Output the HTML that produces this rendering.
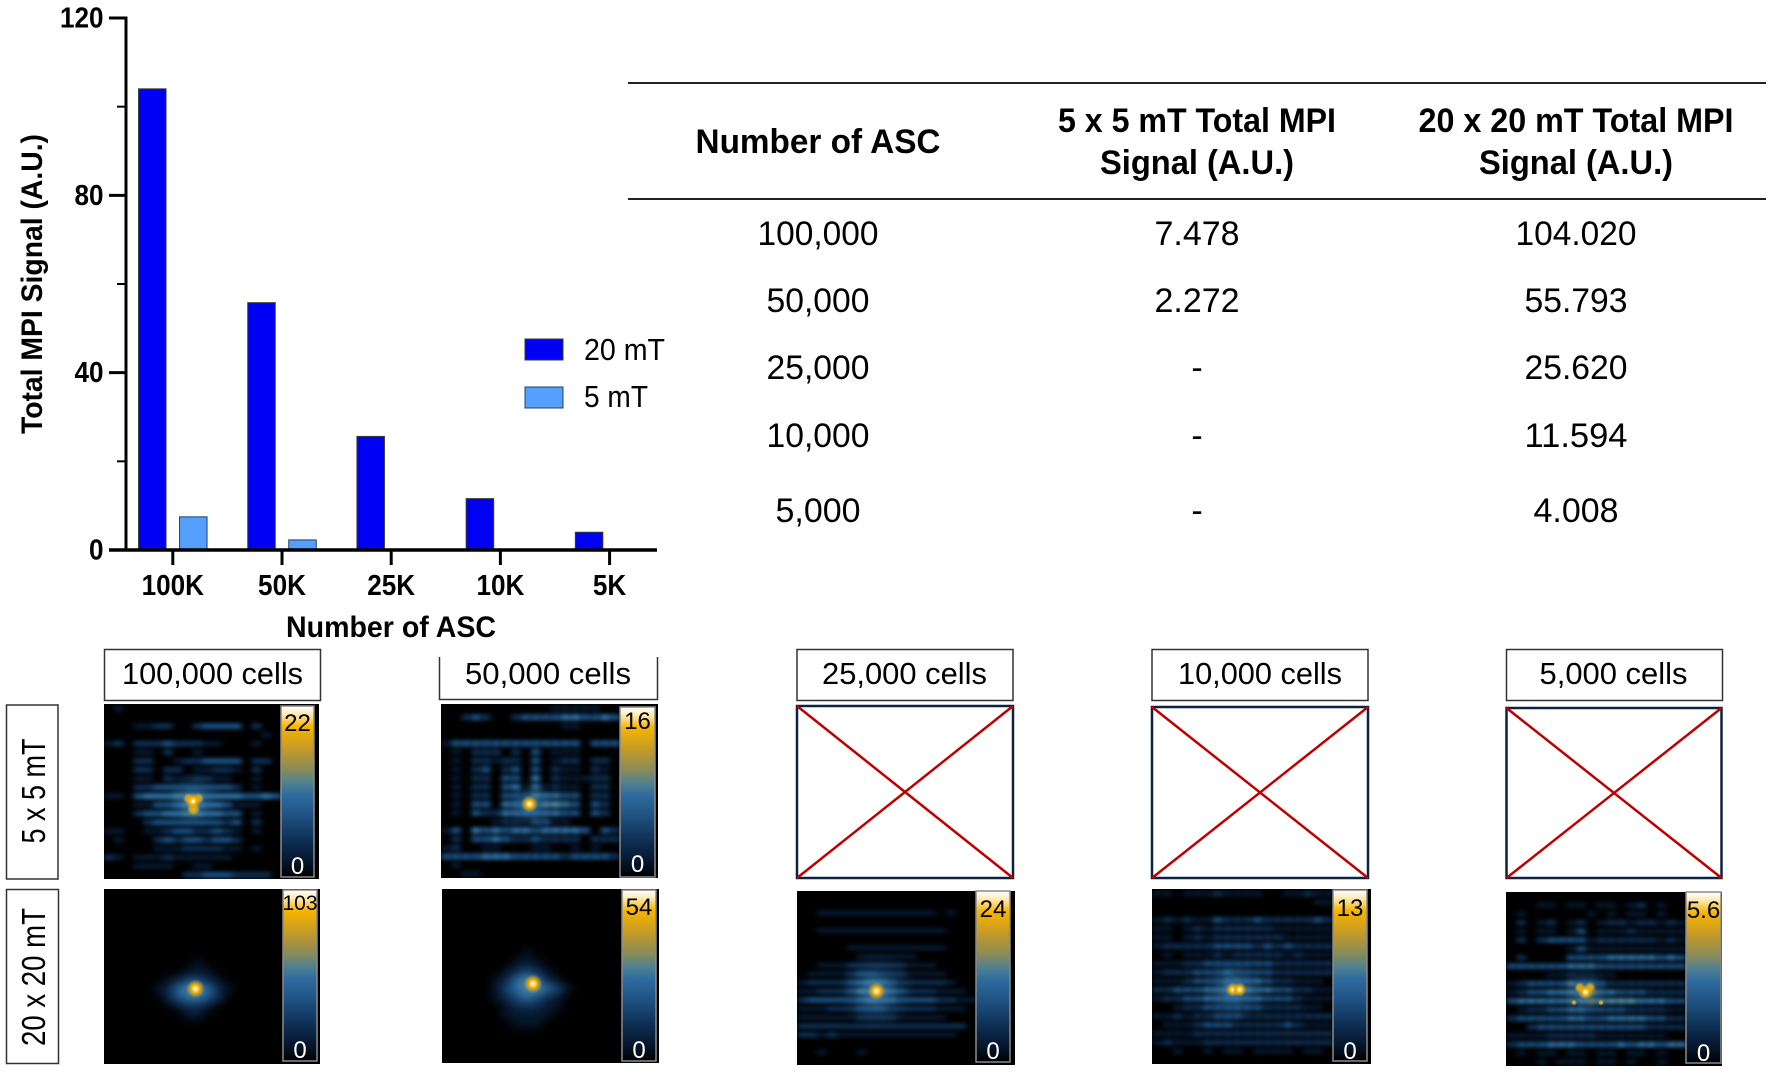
<!DOCTYPE html>
<html lang="en">
<head>
<meta charset="utf-8">
<title>MPI signal versus number of ASC</title>
<style>
html,body{margin:0;padding:0;background:#fff;}
svg{display:block;}
text{font-family:"Liberation Sans",sans-serif;fill:#000;}
.hd{font-size:34px;font-weight:bold;text-anchor:middle;}
.td{font-size:34px;text-anchor:middle;}
.cl{font-size:31px;text-anchor:middle;}
.rl{font-size:33px;text-anchor:middle;}
</style>
</head>
<body>
<svg id="fig" xmlns="http://www.w3.org/2000/svg" width="1772" height="1076" viewBox="0 0 1772 1076">
<defs>
<linearGradient id="cbar" x1="0" y1="0" x2="0" y2="1">
<stop offset="0" stop-color="#ffffff"/><stop offset="0.05" stop-color="#fde9b0"/><stop offset="0.12" stop-color="#f7b500"/>
<stop offset="0.25" stop-color="#c49a28"/><stop offset="0.37" stop-color="#8a8c58"/><stop offset="0.45" stop-color="#4f8090"/>
<stop offset="0.52" stop-color="#2f6b9e"/><stop offset="0.65" stop-color="#1e5080"/><stop offset="0.8" stop-color="#0c2c50"/>
<stop offset="0.92" stop-color="#041428"/><stop offset="1" stop-color="#000000"/>
</linearGradient>
<radialGradient id="hot">
<stop offset="0" stop-color="#ffffff"/><stop offset="0.14" stop-color="#fff0b8"/><stop offset="0.38" stop-color="#fbb600"/>
<stop offset="0.7" stop-color="#d8a020" stop-opacity="0.55"/><stop offset="1" stop-color="#4a88a8" stop-opacity="0"/>
</radialGradient>
<radialGradient id="warm">
<stop offset="0" stop-color="#fbb600"/><stop offset="0.55" stop-color="#e8aa10" stop-opacity="0.8"/>
<stop offset="1" stop-color="#4a88a8" stop-opacity="0"/>
</radialGradient>
<radialGradient id="glow">
<stop offset="0" stop-color="#4a88b0" stop-opacity="0.9"/><stop offset="0.5" stop-color="#2a6a9c" stop-opacity="0.35"/>
<stop offset="1" stop-color="#184a78" stop-opacity="0"/>
</radialGradient>
<filter id="blurNoisy" x="-5%" y="-5%" width="110%" height="110%" color-interpolation-filters="sRGB"><feGaussianBlur stdDeviation="2.7 1.9"/></filter>
<filter id="blurSmooth" x="-5%" y="-5%" width="110%" height="110%" color-interpolation-filters="sRGB"><feGaussianBlur stdDeviation="5 4.5"/></filter>
</defs>

<g id="bar-chart"></g>

<g>
<line x1="628" y1="83" x2="1766" y2="83" stroke="#222" stroke-width="2"/>
<line x1="628" y1="199" x2="1766" y2="199" stroke="#222" stroke-width="2"/>
<text class="hd" x="818" y="153" textLength="245" lengthAdjust="spacingAndGlyphs">Number of ASC</text>
<text class="hd" x="1197" y="132" textLength="278" lengthAdjust="spacingAndGlyphs">5 x 5 mT Total MPI</text>
<text class="hd" x="1197" y="174" textLength="194" lengthAdjust="spacingAndGlyphs">Signal (A.U.)</text>
<text class="hd" x="1576" y="132" textLength="315" lengthAdjust="spacingAndGlyphs">20 x 20 mT Total MPI</text>
<text class="hd" x="1576" y="174" textLength="194" lengthAdjust="spacingAndGlyphs">Signal (A.U.)</text>

<text class="td" x="818" y="245" textLength="121" lengthAdjust="spacingAndGlyphs">100,000</text>
<text class="td" x="1197" y="245" textLength="85" lengthAdjust="spacingAndGlyphs">7.478</text>
<text class="td" x="1576" y="245" textLength="121" lengthAdjust="spacingAndGlyphs">104.020</text>

<text class="td" x="818" y="312" textLength="103" lengthAdjust="spacingAndGlyphs">50,000</text>
<text class="td" x="1197" y="312" textLength="85" lengthAdjust="spacingAndGlyphs">2.272</text>
<text class="td" x="1576" y="312" textLength="103" lengthAdjust="spacingAndGlyphs">55.793</text>

<text class="td" x="818" y="379" textLength="103" lengthAdjust="spacingAndGlyphs">25,000</text>
<text class="td" x="1197" y="379">-</text>
<text class="td" x="1576" y="379" textLength="103" lengthAdjust="spacingAndGlyphs">25.620</text>

<text class="td" x="818" y="447" textLength="103" lengthAdjust="spacingAndGlyphs">10,000</text>
<text class="td" x="1197" y="447">-</text>
<text class="td" x="1576" y="447" textLength="103" lengthAdjust="spacingAndGlyphs">11.594</text>

<text class="td" x="818" y="522" textLength="85" lengthAdjust="spacingAndGlyphs">5,000</text>
<text class="td" x="1197" y="522">-</text>
<text class="td" x="1576" y="522" textLength="85" lengthAdjust="spacingAndGlyphs">4.008</text>
</g>

<g>
<rect x="104.5" y="649.5" width="216" height="51" fill="#fff" stroke="#333" stroke-width="1.5"/>
<text class="cl" x="212.5" y="684" textLength="181" lengthAdjust="spacingAndGlyphs">100,000 cells</text>
<path d="M439.5 657V699.5H657.5V657" fill="none" stroke="#333" stroke-width="1.5"/>
<text class="cl" x="548" y="684" textLength="166" lengthAdjust="spacingAndGlyphs">50,000 cells</text>
<rect x="797" y="649.5" width="216" height="51" fill="#fff" stroke="#333" stroke-width="1.5"/>
<text class="cl" x="904.5" y="684" textLength="165" lengthAdjust="spacingAndGlyphs">25,000 cells</text>
<rect x="1152" y="649.5" width="216" height="51" fill="#fff" stroke="#333" stroke-width="1.5"/>
<text class="cl" x="1260" y="684" textLength="164" lengthAdjust="spacingAndGlyphs">10,000 cells</text>
<rect x="1506.5" y="649.5" width="216" height="51" fill="#fff" stroke="#333" stroke-width="1.5"/>
<text class="cl" x="1613.5" y="684" textLength="148" lengthAdjust="spacingAndGlyphs">5,000 cells</text>
</g>

<g>
<rect x="6.5" y="705" width="51.5" height="174" fill="#fff" stroke="#333" stroke-width="1.5"/>
<text class="rl" transform="translate(45 791) rotate(-90)" textLength="105" lengthAdjust="spacingAndGlyphs">5 x 5 mT</text>
<rect x="6.5" y="889.5" width="52" height="174" fill="#fff" stroke="#333" stroke-width="1.5"/>
<text class="rl" transform="translate(45 977) rotate(-90)" textLength="138" lengthAdjust="spacingAndGlyphs">20 x 20 mT</text>
</g>

<g>
<g>
<rect x="797" y="706" width="216" height="172" fill="#fff" stroke="#0d2240" stroke-width="2.5"/>
<path d="M797 706L1013 878M1013 706L797 878" stroke="#c00000" stroke-width="2.5" fill="none"/>
</g>
<g>
<rect x="1152" y="707" width="216" height="171" fill="#fff" stroke="#0d2240" stroke-width="2.5"/>
<path d="M1152 707L1368 878M1368 707L1152 878" stroke="#c00000" stroke-width="2.5" fill="none"/>
</g>
<g>
<rect x="1506.5" y="708" width="215" height="170" fill="#fff" stroke="#0d2240" stroke-width="2.5"/>
<path d="M1506.5 708L1721.5 878M1721.5 708L1506.5 878" stroke="#c00000" stroke-width="2.5" fill="none"/>
</g>
</g>

<g id="heatmaps"></g>
</svg>

<script>
// ---- bar chart data ----
const categories = ["100K", "50K", "25K", "10K", "5K"];
const series20mT = [104.02, 55.793, 25.62, 11.594, 4.008];
const series5mT = [7.478, 2.272, 0, 0, 0];
const yMajorTicks = [0, 40, 80, 120];
const yMinorTicks = [20, 60, 100];

// ---- heatmap data: intensity level 0-9 per cell, one string per image row ----
const grid100k5mT = [
"010000000000000000","000000000000000000","000112200233330200","000000000000000010",
"120222322211000100","000110200100000000","000220012233330220","000220220112210200",
"000110211221100100","000223333333320100","110344455544443343","000113345544311100",
"000233445544330100","000023333333230200","110011233223210100","010002323323320000",
"000001112222110100","210111211111100000","000111100110000000","000000002233322220"];
const grid50k5mT = [
"000000000001111100","002320023333443343","000000000000110000","000000000000000000",
"133333333333330333","010222020301110000","010221220301220220","010230230302110210",
"010220330402111220","010220340412110220","010220332544330220","010330444455430320",
"010322444444330320","000001221331100000","130434344344443032","020334322322220222",
"120011000110010100","333344433333233332","010000000000000000","001100000000000000"];
const grid100k20mT = [
"000000000000000000","000000000000000000","000000000000000000","000000000000000000",
"000000000000000000","000000000000000000","000000000000000000","000000000000000000",
"000000000100000000","000000001110000000","000000123321000000","000001245542100000",
"000000234432000000","000000012210000000","000000001100000000","000000000000000000",
"000000000000000000","000000000000000000","000000000000000000","000000000000000000"];
const grid50k20mT = [
"000000000000000000","000000000000000000","000000000000000000","000000000000000000",
"000000000000000000","000000000000000000","000000000000000000","000000001000000000",
"000000011100000000","000000123210000000","000001245421000000","000001345543100000",
"000001234321000000","000000122211000000","000000111110000000","000000011100000000",
"000000000000000000","000000000000000000","000000000000000000","000000000000000000"];
const grid25k20mT = [
"000000000000000000","000000000000000000","001111111111110100","000000000000000000",
"001111111111111000","000000000000000000","000001111111111000","000000111111000000",
"001112222221110000","011112332221111000","122223454322222100","112223555432221110",
"233333454433332211","111222333222221110","111111222211111000","222222222222222220",
"221211111111111100","000000000000000000","001000100000000000","000000000000000000"];
const grid10k20mT = [
"110111211110011211","000000000000000011","000000000000000000","121211322232222232",
"110121222222111111","110121222222211111","122222333323232222","010111212222212111",
"111223333333222222","122233343333222222","111233344443221110","223334455544332211",
"122334444443332111","001223333332222110","112122333222222222","011123332222232111",
"111122222222222222","121112222222222222","001001011011110110","000000000000000000"];
const grid5k20mT = [
"000000000000000000","000110110110120100","010000001010110100","020120120122122121",
"010110130111211111","020233331222222121","000000131111111111","020000333344444343",
"333333444333333333","000011211110000000","123333544322222222","123344567443332222",
"344444556555544433","012233443333222211","233333443344443322","002333333333332222",
"111122222111111100","233344433334344344","010110110110110100","000101110110100100"];

// hot spots, given as [column, row, radius, secondary] in heatmap cell units
const peaks100k5mT = [[9.1,12.0,0.75,1],[8.6,10.8,0.6,1],[9.6,10.8,0.6,1],[9.05,11.1,0.85,0]];
const peaks50k5mT = [[8.9,11.5,0.9,0]];
const peaks100k20mT = [[9.2,11.4,1.0,0]];
const peaks50k20mT = [[9.1,10.9,1.0,0]];
const peaks25k20mT = [[8.0,11.5,0.95,0]];
const peaks10k20mT = [[8.05,11.5,0.75,0],[8.7,11.5,0.75,0]];
const peaks5k20mT = [[7.4,11.0,0.6,1],[8.4,11.0,0.6,1],[7.95,11.5,0.8,0],[6.8,12.7,0.3,1],[9.5,12.7,0.3,1]];

// colour-bar maxima
const scaleMaxLabels = ["22", "16", "103", "54", "24", "13", "5.6"];
const scaleMinLabel = "0";

// ---- axis scales ----
const plotLeft = 126, plotBottom = 550, plotTop = 18;
const groupStart = 172.8, groupStep = 109.2;
const yMax = 120;
function yScale(v){ return plotBottom - (v / yMax) * (plotBottom - plotTop); }
function xScale(i){ return groupStart + i * groupStep; }

const NS = "http://www.w3.org/2000/svg";
function make(tag, parent, props){
  const node = document.createElementNS(NS, tag);
  for (const k in props) node.setAttribute(k, props[k]);
  parent.appendChild(node);
  return node;
}
function narrow(node, factor){
  node.setAttribute("textLength", node.getComputedTextLength() * factor);
  node.setAttribute("lengthAdjust", "spacingAndGlyphs");
}

// ---- draw bar chart ----
const chart = document.getElementById("bar-chart");
const barWidth = 27.5, barGap = 6.75;
let el;

categories.forEach(function(c, i){
  el = make("rect", chart, {x: xScale(i) - barGap - barWidth, y: yScale(series20mT[i]), width: barWidth, height: yScale(0) - yScale(series20mT[i]), fill: "#0000f5", stroke: "#3a3a30", "stroke-width": 1});
  
  
  if (series5mT[i] > 0) {
    el = make("rect", chart, {x: xScale(i) + barGap, y: yScale(series5mT[i]), width: barWidth, height: yScale(0) - yScale(series5mT[i]), fill: "#559fff", stroke: "#26405f", "stroke-width": 1});
    
    
  }
});

el = make("line", chart, {x1: plotLeft, y1: plotTop - 1.5, x2: plotLeft, y2: plotBottom, stroke: "#000", "stroke-width": 3});


el = make("line", chart, {x1: 109, y1: plotBottom, x2: 657, y2: plotBottom, stroke: "#000", "stroke-width": 3.5});



yMajorTicks.forEach(function(v){
  el = make("line", chart, {x1: 109, y1: yScale(v), x2: plotLeft, y2: yScale(v), stroke: "#000", "stroke-width": 3});
  
  
  el = make("text", chart, {x: 103.5, y: yScale(v) + 9.5, "text-anchor": "end", "font-size": 29, "font-weight": "bold"});
  el.textContent = String(v);
  narrow(el, 0.9);
  
  
});
yMinorTicks.forEach(function(v){
  el = make("line", chart, {x1: 117, y1: yScale(v), x2: plotLeft, y2: yScale(v), stroke: "#000", "stroke-width": 2});
  
  
});
categories.forEach(function(c, i){
  el = make("line", chart, {x1: xScale(i), y1: plotBottom, x2: xScale(i), y2: 565, stroke: "#000", "stroke-width": 3});
  
  
  el = make("text", chart, {x: xScale(i), y: 595, "text-anchor": "middle", "font-size": 29, "font-weight": "bold"});
  el.textContent = c;
  narrow(el, 0.9);
  
  
});

el = make("text", chart, {x: 391, y: 637, "text-anchor": "middle", "font-size": 30, "font-weight": "bold", textLength: 210, lengthAdjust: "spacingAndGlyphs"});
el.textContent = "Number of ASC";


el = make("text", chart, {transform: "translate(42 284) rotate(-90)", "text-anchor": "middle", "font-size": 30, "font-weight": "bold", textLength: 300, lengthAdjust: "spacingAndGlyphs"});
el.textContent = "Total MPI Signal (A.U.)";



el = make("rect", chart, {x: 525, y: 339, width: 38, height: 21, fill: "#0000f5", stroke: "#3a3a30", "stroke-width": 1});


el = make("text", chart, {x: 584, y: 360, "font-size": 31, textLength: 81, lengthAdjust: "spacingAndGlyphs"});
el.textContent = "20 mT";


el = make("rect", chart, {x: 525, y: 387, width: 38, height: 21, fill: "#559fff", stroke: "#26405f", "stroke-width": 1});


el = make("text", chart, {x: 584, y: 407, "font-size": 31, textLength: 64, lengthAdjust: "spacingAndGlyphs"});
el.textContent = "5 mT";



// ---- draw heatmaps ----
const levelColors = ["#000000","#05162a","#0c2a4c","#174a7a","#2a6a9c","#4a88a8","#8a9060","#d8a820","#fbb600","#ffffff"];
function levelColor(level){ return levelColors[level]; }

const panels = [
  {key:"100k-5mt", grid:grid100k5mT, peaks:peaks100k5mT, blur:"blurNoisy", wf:1, hf:0.66, glow:30, fx:104, fy:704, fw:215, fh:175, cx:281, cy:706, cw:33, ch:171, top:731, zero:874, size:24},
  {key:"50k-5mt", grid:grid50k5mT, peaks:peaks50k5mT, blur:"blurNoisy", wf:0.85, hf:0.72, glow:25, fx:441, fy:704, fw:217, fh:174, cx:620, cy:707, cw:35, ch:170, top:729, zero:872, size:24},
  {key:"100k-20mt", grid:grid100k20mT, peaks:peaks100k20mT, blur:"blurSmooth", wf:1, hf:1, glow:0, fx:104, fy:889, fw:216, fh:175, cx:283, cy:890, cw:34, ch:171, top:910, zero:1058, size:21},
  {key:"50k-20mt", grid:grid50k20mT, peaks:peaks50k20mT, blur:"blurSmooth", wf:1, hf:1, glow:0, fx:442, fy:889, fw:217, fh:174, cx:622, cy:890, cw:34, ch:171, top:915, zero:1058, size:24},
  {key:"25k-20mt", grid:grid25k20mT, peaks:peaks25k20mT, blur:"blurNoisy", wf:1, hf:0.6, glow:40, fx:797, fy:891, fw:218, fh:174, cx:976, cy:891, cw:34, ch:171, top:917, zero:1059, size:24},
  {key:"10k-20mt", grid:grid10k20mT, peaks:peaks10k20mT, blur:"blurNoisy", wf:0.85, hf:0.66, glow:32, fx:1152, fy:889, fw:219, fh:175, cx:1333, cy:890, cw:34, ch:171, top:916, zero:1059, size:24},
  {key:"5k-20mt", grid:grid5k20mT, peaks:peaks5k20mT, blur:"blurNoisy", wf:0.85, hf:0.62, glow:26, fx:1506, fy:892, fw:216, fh:174, cx:1686, cy:892, cw:35, ch:171, top:918, zero:1061, size:24}
];

const heatRoot = document.getElementById("heatmaps");
const defs = document.querySelector("defs");

panels.forEach(function(p, idx){
  const panel = make("g", heatRoot, {});
  
  

  el = make("rect", panel, {x: p.fx, y: p.fy, width: p.fw, height: p.fh, fill: "#000"});
  
  

  const clipId = "clip" + idx;
  const clip = make("clipPath", defs, {id: clipId});
  make("rect", clip, {x: p.fx, y: p.fy, width: p.cx - p.fx, height: p.fh});
  const clipped = make("g", panel, {"clip-path": "url(#" + clipId + ")"});
  const blurred = make("g", clipped, {filter: "url(#" + p.blur + ")"});

  const rows = p.grid.length, cols = p.grid[0].length;
  const cellW = (p.cx - p.fx) / cols, cellH = p.fh / rows;
  const insetW = cellW * (1 - p.wf) / 2, insetH = cellH * (1 - p.hf) / 2;
  p.grid.forEach(function(line, r){
    for (let c = 0; c < cols; c++) {
      const v = Number(line[c]);
      el = make("rect", blurred, {x: p.fx + c * cellW + insetW, y: p.fy + r * cellH + insetH, width: cellW * p.wf + 0.5, height: cellH * p.hf + 0.5, fill: levelColor(v)});
      
      
    }
  });
  if (p.glow > 0) {
    el = make("circle", clipped, {cx: p.fx + p.peaks[p.peaks.length > 2 && p.key === "100k-5mt" ? 3 : (p.key === "5k-20mt" ? 2 : 0)][0] * cellW, cy: p.fy + p.peaks[p.peaks.length > 2 && p.key === "100k-5mt" ? 3 : (p.key === "5k-20mt" ? 2 : 0)][1] * cellH, r: p.glow, fill: "url(#glow)"});
    
    
  }
  p.peaks.forEach(function(k){
    el = make("circle", clipped, {cx: p.fx + k[0] * cellW, cy: p.fy + k[1] * cellH, r: k[2] * cellW, fill: k[3] ? "url(#warm)" : "url(#hot)"});
    
    
  });

  el = make("rect", panel, {x: p.cx, y: p.cy, width: p.cw, height: p.ch, fill: "url(#cbar)", stroke: "#8a8a8a", "stroke-width": 1.5});
  
  
  el = make("text", panel, {x: p.cx + p.cw / 2, y: p.top, "text-anchor": "middle", "font-size": p.size});
  el.textContent = scaleMaxLabels[idx];
  
  
  el = make("text", panel, {x: p.cx + p.cw / 2, y: p.zero, "text-anchor": "middle", "font-size": 24, style: "fill:#fff"});
  el.textContent = scaleMinLabel;
  
  
});
</script>
</body>
</html>
